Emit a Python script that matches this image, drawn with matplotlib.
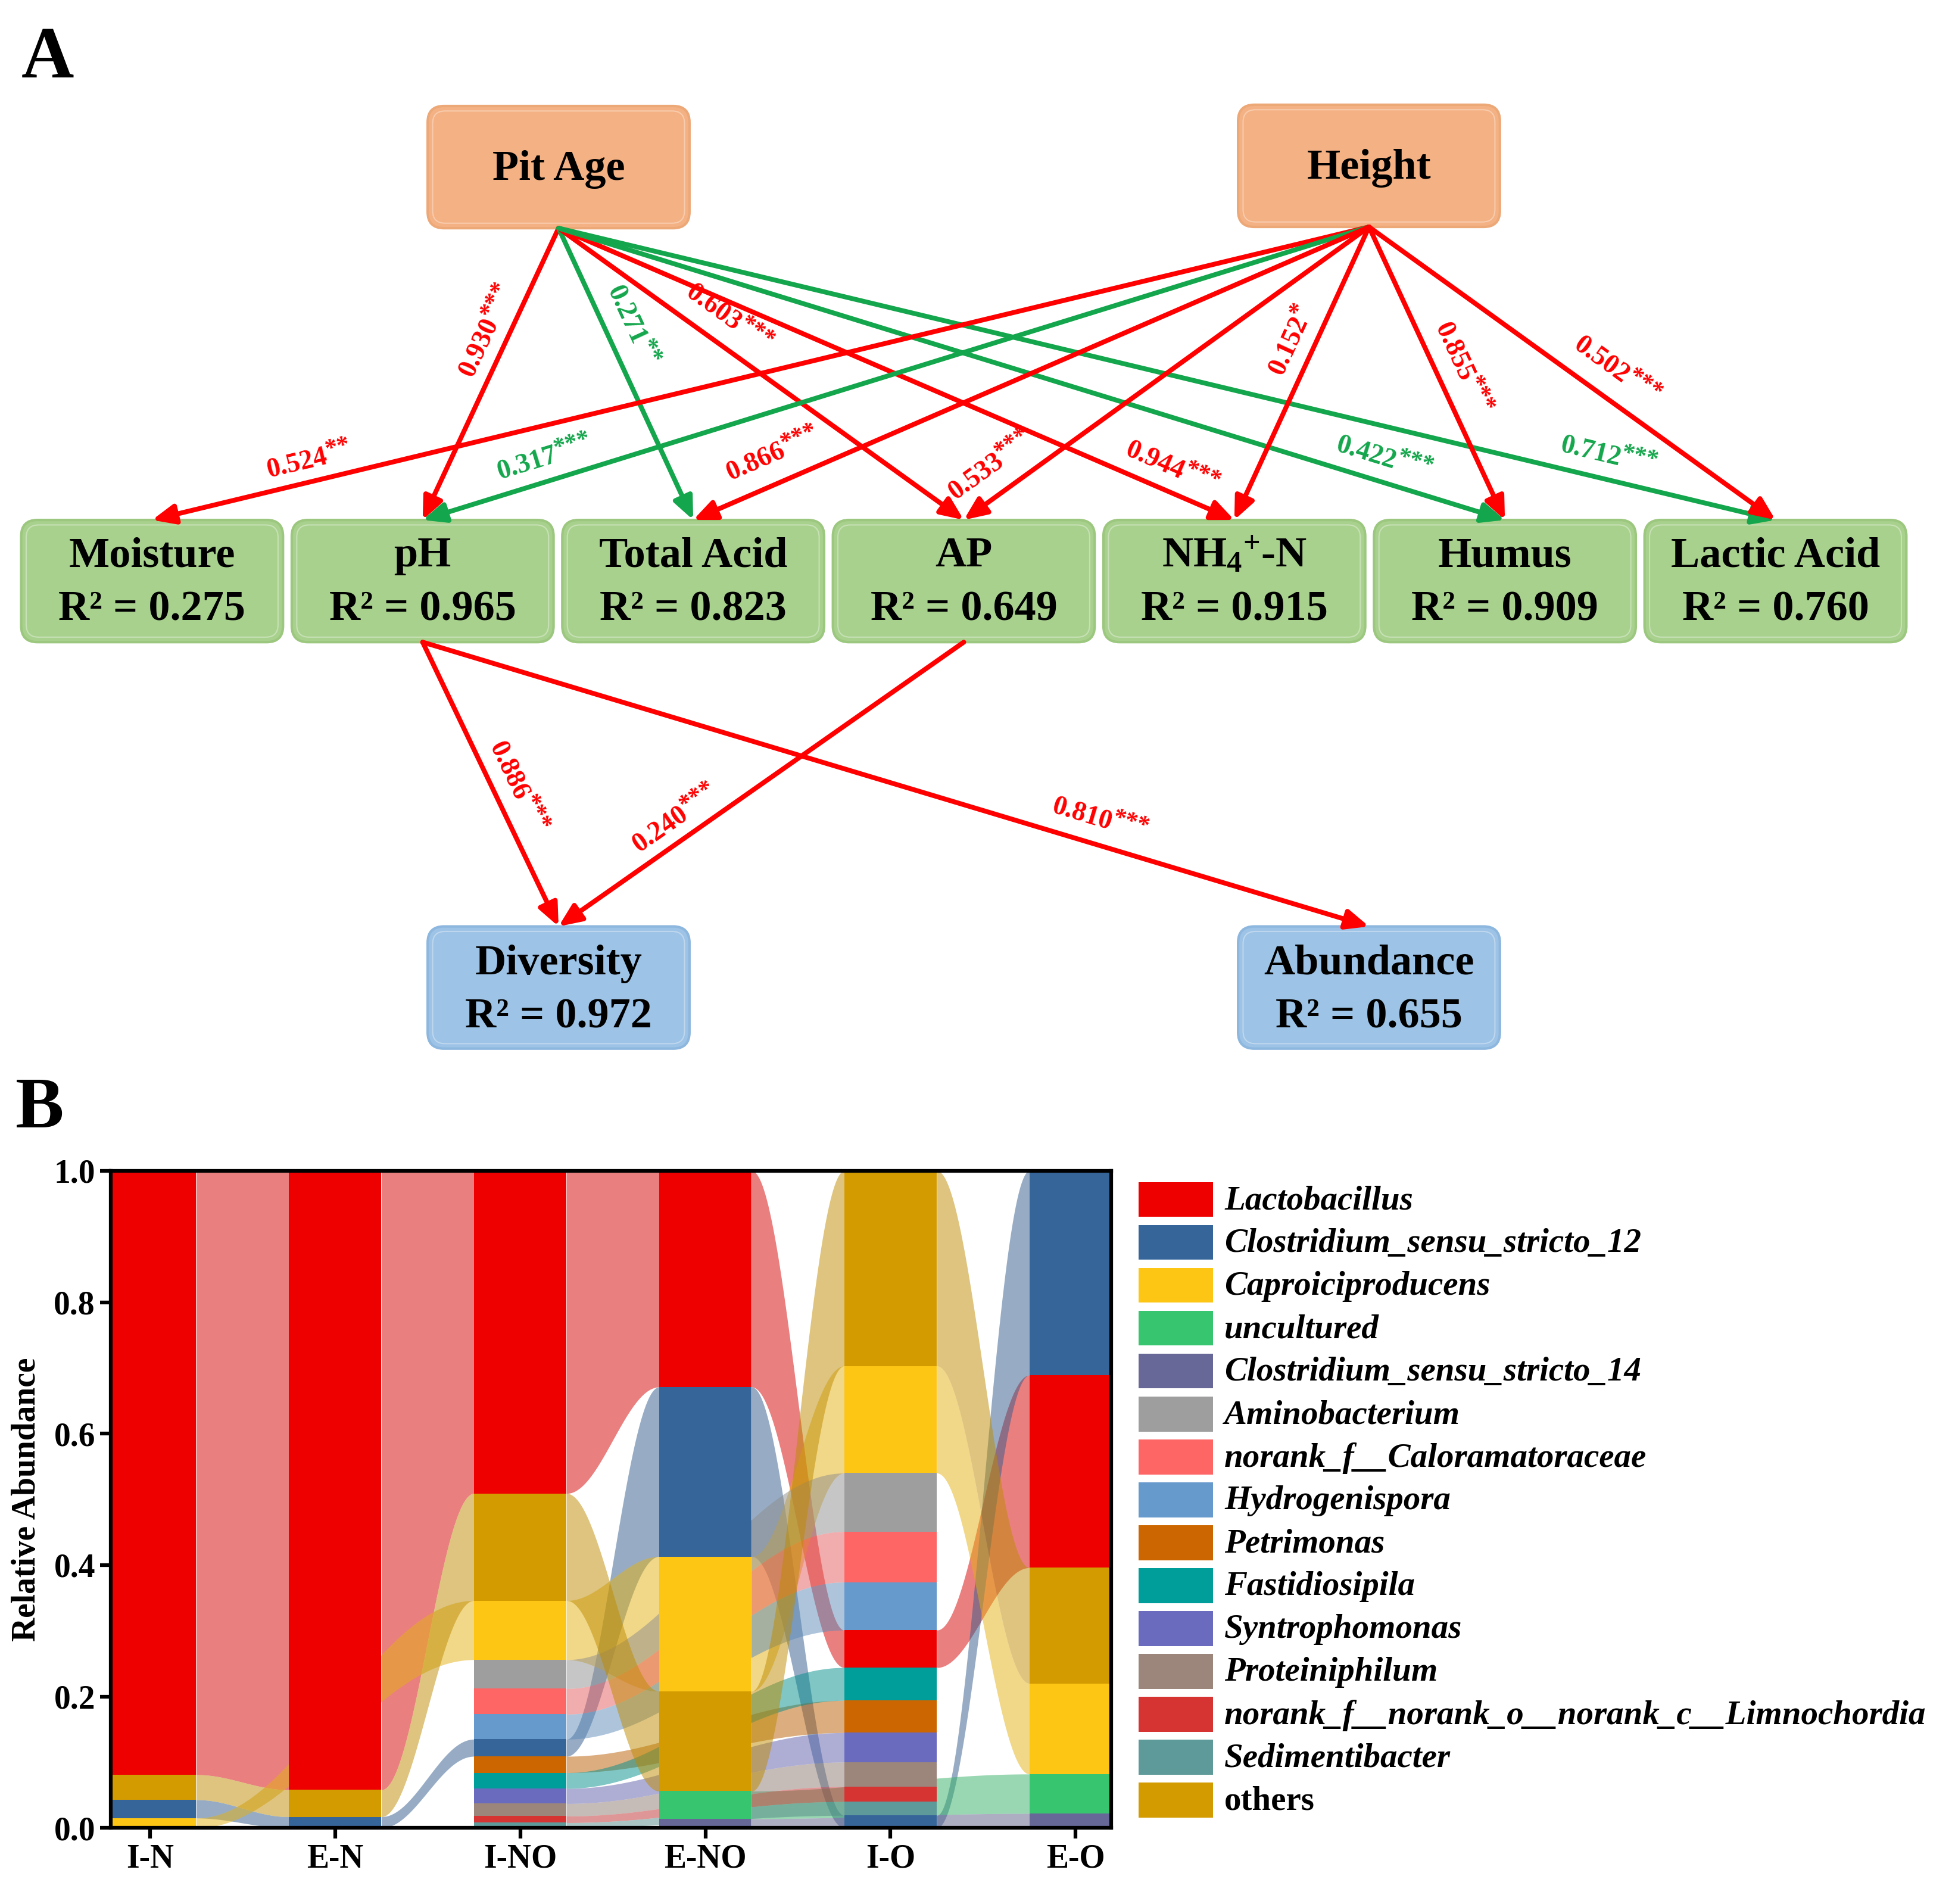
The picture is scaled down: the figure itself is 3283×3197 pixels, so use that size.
import math
import numpy as np
import matplotlib
matplotlib.use("Agg")
import matplotlib.pyplot as plt
from matplotlib.patches import FancyBboxPatch, FancyArrowPatch, Rectangle, ArrowStyle
from matplotlib.colors import to_rgb

plt.rcParams['font.family'] = ['Liberation Serif', 'DejaVu Serif']
plt.rcParams['font.weight'] = 'bold'
plt.rcParams['mathtext.default'] = 'regular'

# ---------------- data: panel A (path model) ----------------
source_nodes = ['Pit Age', 'Height']
mid_nodes = ['Moisture', 'pH', 'Total Acid', 'AP', 'NH$_4$$^{+}$-N', 'Humus', 'Lactic Acid']
mid_r2 = [0.275, 0.965, 0.823, 0.649, 0.915, 0.909, 0.760]
out_nodes = ['Diversity', 'Abundance']
out_r2 = [0.972, 0.655]

path_from = ['Pit Age', 'Pit Age', 'Pit Age', 'Pit Age', 'Pit Age', 'Pit Age',
             'Height', 'Height', 'Height', 'Height', 'Height', 'Height', 'Height',
             'pH', 'AP', 'pH']
path_to = ['pH', 'Total Acid', 'AP', 'NH$_4$$^{+}$-N', 'Humus', 'Lactic Acid',
           'Moisture', 'pH', 'Total Acid', 'AP', 'NH$_4$$^{+}$-N', 'Humus', 'Lactic Acid',
           'Diversity', 'Diversity', 'Abundance']
path_coef = [0.930, 0.271, 0.603, 0.944, 0.422, 0.712,
             0.524, 0.317, 0.866, 0.533, 0.152, 0.855, 0.502,
             0.886, 0.240, 0.810]
path_stars = ['***', '**', '***', '***', '***', '***',
              '**', '***', '***', '***', '*', '***', '***',
              '***', '***', '***']
path_positive = [True, False, True, True, False, False,
                 True, False, True, True, True, True, True,
                 True, True, True]

# ---------------- data: panel B (relative abundance) ----------------
samples = ['I-N', 'E-N', 'I-NO', 'E-NO', 'I-O', 'E-O']
taxa = ['Lactobacillus', 'Clostridium_sensu_stricto_12', 'Caproiciproducens', 'uncultured',
        'Clostridium_sensu_stricto_14', 'Aminobacterium', 'norank_f__Caloramatoraceae',
        'Hydrogenispora', 'Petrimonas', 'Fastidiosipila', 'Syntrophomonas', 'Proteiniphilum',
        'norank_f__norank_o__norank_c__Limnochordia', 'Sedimentibacter', 'others']
lactobacillus = [0.919, 0.942, 0.491, 0.329, 0.057, 0.293]
clostridium_12 = [0.028, 0.017, 0.026, 0.258, 0.019, 0.311]
caproiciproducens = [0.015, 0.0, 0.090, 0.205, 0.163, 0.138]
uncultured = [0.0, 0.0, 0.0, 0.042, 0.0, 0.060]
clostridium_14 = [0.0, 0.0, 0.0, 0.014, 0.0, 0.022]
aminobacterium = [0.0, 0.0, 0.044, 0.0, 0.089, 0.0]
caloramatoraceae = [0.0, 0.0, 0.039, 0.0, 0.077, 0.0]
hydrogenispora = [0.0, 0.0, 0.038, 0.0, 0.073, 0.0]
petrimonas = [0.0, 0.0, 0.025, 0.0, 0.049, 0.0]
fastidiosipila = [0.0, 0.0, 0.024, 0.0, 0.050, 0.0]
syntrophomonas = [0.0, 0.0, 0.023, 0.0, 0.045, 0.0]
proteiniphilum = [0.0, 0.0, 0.019, 0.0, 0.037, 0.0]
limnochordia = [0.0, 0.0, 0.010, 0.0, 0.023, 0.0]
sedimentibacter = [0.0, 0.0, 0.008, 0.0, 0.021, 0.0]
others = [0.038, 0.041, 0.163, 0.152, 0.297, 0.176]
abund = [lactobacillus, clostridium_12, caproiciproducens, uncultured, clostridium_14,
         aminobacterium, caloramatoraceae, hydrogenispora, petrimonas, fastidiosipila,
         syntrophomonas, proteiniphilum, limnochordia, sedimentibacter, others]
taxa_colors = ['#EE0000', '#36659A', '#FDC514', '#38C570', '#686898', '#9E9E9E', '#FE6666',
               '#6699CC', '#CC6600', '#009E9A', '#6A6ABF', '#9C867C', '#D63333', '#5F9A9A',
               '#D39B00']

# ---------------- figure ----------------
W, H = 1568.0, 1527.0
PX = 3283.0 / W  # output pixels per layout unit
fig = plt.figure(figsize=(32.83, 31.97), dpi=100)
ax0 = fig.add_axes([0, 0, 1, 1])
ax0.set_xlim(0, W)
ax0.set_ylim(H, 0)
ax0.axis('off')
renderer = fig.canvas.get_renderer()

ax0.text(38, 48, 'A', fontsize=88, fontweight='bold', ha='center', va='center')
ax0.text(32, 890, 'B', fontsize=88, fontweight='bold', ha='center', va='center')

BW, BH = 210, 98
boxes = {}
boxes['Pit Age'] = (343, 85, '#F4B183', '#EDA878')
boxes['Height'] = (993, 84, '#F4B183', '#EDA878')
for k, name in enumerate(mid_nodes):
    boxes[name] = (17 + 217 * k, 417, '#A9D18E', '#9CC77F')
boxes['Diversity'] = (343, 743, '#9DC3E6', '#8DB7DE')
boxes['Abundance'] = (993, 743, '#9DC3E6', '#8DB7DE')

for name, (x0, y0, fc, ec) in boxes.items():
    p = FancyBboxPatch((x0, y0), BW, BH, boxstyle="round,pad=0,rounding_size=13",
                       facecolor=fc, edgecolor=ec, lw=3, zorder=2)
    ax0.add_patch(p)
    hl = FancyBboxPatch((x0 + 4, y0 + 4), BW - 8, BH - 8, boxstyle="round,pad=0,rounding_size=10",
                        facecolor='none', edgecolor='white', lw=1.5, alpha=0.35, zorder=2)
    ax0.add_patch(hl)

fs_box = 52
for name in source_nodes:
    x0, y0 = boxes[name][0], boxes[name][1]
    ax0.text(x0 + BW / 2, y0 + BH / 2 + 2, name, fontsize=fs_box, ha='center', va='center', zorder=4)
for name, r2 in zip(mid_nodes, mid_r2):
    x0, y0 = boxes[name][0], boxes[name][1]
    ax0.text(x0 + BW / 2, y0 + 29, name, fontsize=fs_box, ha='center', va='center', zorder=4)
    ax0.text(x0 + BW / 2, y0 + 72, 'R\u00b2 = %.3f' % r2, fontsize=fs_box, ha='center', va='center', zorder=4)
for name, r2 in zip(out_nodes, out_r2):
    x0, y0 = boxes[name][0], boxes[name][1]
    ax0.text(x0 + BW / 2, y0 + 30, name, fontsize=fs_box, ha='center', va='center', zorder=4)
    ax0.text(x0 + BW / 2, y0 + 73, 'R\u00b2 = %.3f' % r2, fontsize=fs_box, ha='center', va='center', zorder=4)

# label centres (layout), one per path
label_xy = [(391, 265), (506, 262), (584, 256), (940, 376), (1110, 368), (1290, 366),
            (248, 370), (437, 368), (620, 365), (795, 374), (1036, 273), (1172, 296), (1296, 298),
            (414, 632), (542, 657), (882, 658)]


def text_width(s, fs):
    t = ax0.text(0, 0, s, fontsize=fs, fontweight='bold')
    w = t.get_window_extent(renderer).width
    t.remove()
    return w / PX  # layout units


FS_NUM, FS_STAR = 33, 30
RED, GREEN = '#FF0000', '#14A64C'
for src, dst, c, st, pos, (lx, ly) in zip(path_from, path_to, path_coef, path_stars, path_positive, label_xy):
    sx0, sy0 = boxes[src][0], boxes[src][1]
    dx0, dy0 = boxes[dst][0], boxes[dst][1]
    p0 = (sx0 + BW / 2, sy0 + BH)
    p1 = (dx0 + BW / 2, dy0)
    col = RED if pos else GREEN
    arr = FancyArrowPatch(p0, p1, arrowstyle=ArrowStyle('-|>', head_length=1.15, head_width=0.5),
                          mutation_scale=20, lw=5.8, color=col, shrinkA=0, shrinkB=0, zorder=3)
    ax0.add_patch(arr)
    ang = math.degrees(math.atan2(-(p1[1] - p0[1]), p1[0] - p0[0]))
    if ang > 90:
        ang -= 180
    if ang < -90:
        ang += 180
    num = '%.3f' % c
    wn = text_width(num, FS_NUM)
    ws = text_width(st, FS_STAR)
    a = math.radians(ang)
    ux, uy = math.cos(a), -math.sin(a)      # along text (layout coords, y down)
    px_, py_ = -math.sin(a), -math.cos(a)   # text "up" direction
    total = wn + ws
    ncx = lx + ux * (-total / 2 + wn / 2)
    ncy = ly + uy * (-total / 2 + wn / 2)
    lift = 5.0
    scx = lx + ux * (total / 2 - ws / 2) + px_ * lift
    scy = ly + uy * (total / 2 - ws / 2) + py_ * lift
    ax0.text(ncx, ncy, num, fontsize=FS_NUM, color=col, ha='center', va='center',
             rotation=ang, rotation_mode='anchor', zorder=5)
    ax0.text(scx, scy, st, fontsize=FS_STAR, color=col, ha='center', va='center',
             rotation=ang, rotation_mode='anchor', zorder=5)

# ---------------- panel B ----------------
axB = fig.add_axes([89 / W, (H - 1466) / H, (891 - 89) / W, (1466 - 939) / H])
n = len(samples)
xpos = np.arange(n)
bw = 0.5
vals = np.array(abund)  # taxa x samples
bottoms = np.zeros_like(vals)
for j in range(n):
    order = sorted(range(len(taxa)), key=lambda k: vals[k, j])
    acc = 0.0
    for k in order:
        bottoms[k, j] = acc
        acc += vals[k, j]
tops = bottoms + vals

for k in range(len(taxa)):
    present = [j for j in range(n) if vals[k, j] > 0]
    fcol = tuple(0.9 * v for v in to_rgb(taxa_colors[k]))
    for a, b in zip(present[:-1], present[1:]):
        xs = np.linspace(xpos[a] + bw / 2, xpos[b] - bw / 2, 120)
        u = (xs - xs[0]) / (xs[-1] - xs[0])
        s = (1 - np.cos(np.pi * u)) / 2
        lo = bottoms[k, a] + (bottoms[k, b] - bottoms[k, a]) * s
        hi = tops[k, a] + (tops[k, b] - tops[k, a]) * s
        axB.fill_between(xs, lo, hi, color=fcol, alpha=0.5, lw=0, zorder=1)

for k in range(len(taxa)):
    axB.bar(xpos, vals[k], bottom=bottoms[k], width=bw, color=taxa_colors[k], lw=0, zorder=3)

axB.set_xlim(-0.21, 5.19)
axB.set_ylim(0, 1)
axB.set_xticks(xpos)
axB.set_xticklabels(samples)
axB.set_yticks(np.arange(0, 1.01, 0.2))
axB.set_yticklabels(['%.1f' % v for v in np.arange(0, 1.01, 0.2)])
for sp in axB.spines.values():
    sp.set_linewidth(4.5)
    sp.set_zorder(6)
axB.tick_params(axis='both', direction='out', length=13, width=4.5, labelsize=40, pad=6)
for lab in axB.get_xticklabels() + axB.get_yticklabels():
    lab.set_fontweight('bold')
axB.set_ylabel('Relative Abundance', fontsize=40, fontweight='bold', labelpad=14)

# legend (manual, in figure layout coordinates)
for k, name in enumerate(taxa):
    y = 948 + 34.4 * k
    ax0.add_patch(Rectangle((913, y), 60, 28, facecolor=taxa_colors[k], edgecolor='none'))
    ax0.text(982, y + 15, name, fontsize=41, fontweight='bold',
             style='normal' if name == 'others' else 'italic', ha='left', va='center')

fig.savefig('out.png', dpi=100)
